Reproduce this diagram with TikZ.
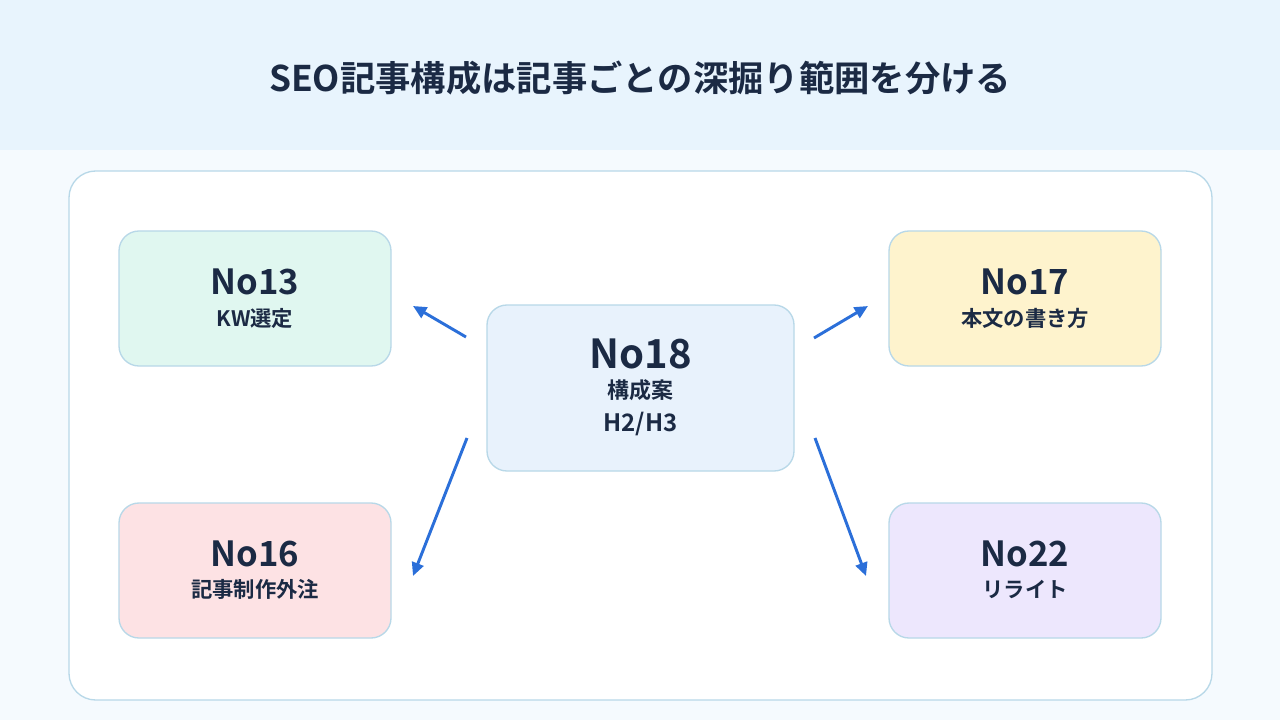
\documentclass[tikz,border=0pt]{standalone}
\usepackage{fontspec}
\setmainfont{Noto Sans CJK JP}[BoldFont={Noto Sans CJK JP Bold}]
\usetikzlibrary{arrows.meta}
\definecolor{hdr}{HTML}{E8F4FD}
\definecolor{bg}{HTML}{F5FAFE}
\definecolor{ink}{HTML}{1B2A44}
\definecolor{edge}{HTML}{B8D8E8}
\definecolor{arr}{HTML}{2B6FD9}
\definecolor{cg}{HTML}{E0F7F0}
\definecolor{cy}{HTML}{FEF3CD}
\definecolor{cp}{HTML}{FDE2E4}
\definecolor{cv}{HTML}{EDE7FD}
\definecolor{cb}{HTML}{E8F2FC}
\tikzset{
 card/.style={draw=edge,line width=1pt,rounded corners=15pt,minimum width=272*0.75pt,minimum height=135*0.75pt,inner sep=0pt},
 big/.style={text=ink,inner sep=0pt,font=\bfseries\fontsize{26}{28}\selectfont},
 small/.style={text=ink,inner sep=0pt,font=\bfseries\fontsize{16}{18}\selectfont},
 link/.style={draw=arr,line width=2.2pt,-{Triangle[length=10pt,width=9pt]}}
}
\begin{document}
\begin{tikzpicture}[x=0.75pt,y=-0.75pt]
\fill[bg] (0,0) rectangle (1280,720);
\fill[hdr] (0,0) rectangle (1280,150);
\node[text=ink,font=\bfseries\fontsize{26.5}{28}\selectfont] (title) at (640,78) {SEO記事構成は記事ごとの深掘り範囲を分ける};
\draw[edge,fill=white,line width=1pt,rounded corners=20pt] (69,171) rectangle (1212,700);
\node[card,fill=cg] (n13) at (255,298.5) {};
\node[card,fill=cy] (n17) at (1025,298.5) {};
\node[card,fill=cp] (n16) at (255,570.5) {};
\node[card,fill=cv] (n22) at (1025,570.5) {};
\node[card,fill=cb,minimum width=307*0.75pt,minimum height=166*0.75pt] (n18) at (640.5,388) {};
\node[big] (t13) at (255,282) {No13};
\node[small] (s13) at (255,318) {KW選定};
\node[big] (t17) at (1025,282) {No17};
\node[small] (s17) at (1025,318) {本文の書き方};
\node[big] (t16) at (255,554) {No16};
\node[small] (s16) at (255,589) {記事制作外注};
\node[big] (t22) at (1025,554) {No22};
\node[small] (s22) at (1025,589) {リライト};
\node[big,font=\bfseries\fontsize{30}{32}\selectfont] (t18) at (640.5,354) {No18};
\node[small,font=\bfseries\fontsize{16.5}{18}\selectfont] (s18) at (640.5,390) {構成案};
\node[small,font=\bfseries\fontsize{18}{20}\selectfont] (h18) at (640.5,424) {H2/H3};
\coordinate (a1s) at (466,337); \coordinate (a1e) at (413,306);
\coordinate (a2s) at (814,338); \coordinate (a2e) at (868,306);
\coordinate (a3s) at (467,438); \coordinate (a3e) at (413,576);
\coordinate (a4s) at (815,438); \coordinate (a4e) at (866,576);
\draw[link] (a1s) -- (a1e);
\draw[link] (a2s) -- (a2e);
\draw[link] (a3s) -- (a3e);
\draw[link] (a4s) -- (a4e);
\end{tikzpicture}
\end{document}
